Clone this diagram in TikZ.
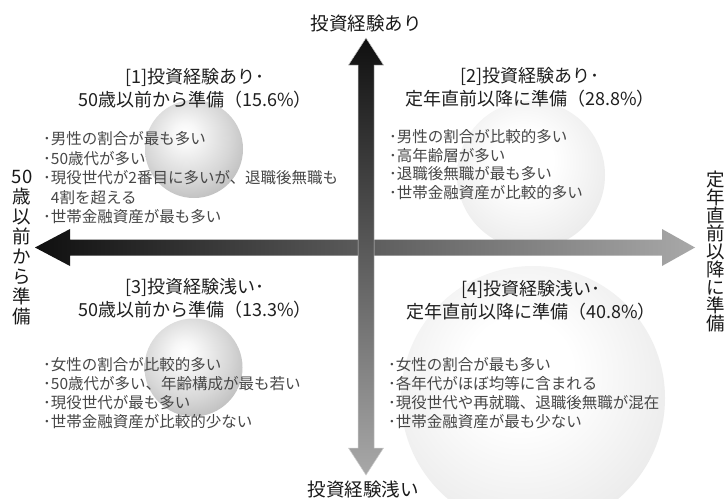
\documentclass[tikz,border=0pt]{standalone}
\usepackage{fontspec}
\setmainfont{Noto Sans CJK JP}
\pgfdeclareradialshading{sphdark}{\pgfpoint{-5bp}{8bp}}{%
  color(0bp)=(white); color(6bp)=(white!97!black); color(22bp)=(black!16);
  color(40bp)=(black!34); color(50bp)=(black!44); color(70bp)=(black!48)}
\pgfdeclareradialshading{sphlight}{\pgfpoint{-3bp}{6bp}}{%
  color(0bp)=(white); color(10bp)=(white); color(30bp)=(black!8);
  color(50bp)=(black!21); color(70bp)=(black!24)}
\begin{document}
\begin{tikzpicture}[x=1pt,y=-1pt,
  ttl/.style={align=center,inner sep=0pt,font=\fontsize{18}{23}\selectfont,text=black!88},
  blt/.style={align=left,inner sep=0pt,anchor=north west,text=black!72},
  axl/.style={inner sep=0pt,align=center,text=black!90},
  sphA/.style={circle,inner sep=0pt,shading=sphdark},
  sphB/.style={circle,inner sep=0pt,shading=sphlight},
]
\useasboundingbox (0,0) rectangle (728,498);
\fill[white] (0,0) rectangle (728,498);

% spheres
\node[sphA,minimum size=98pt] (s1) at (194,149) {};
\node[sphB,minimum size=148pt] (s2) at (531,175) {};
\node[sphA,minimum size=98pt] (s3) at (193.5,367.5) {};
\node[sphB,minimum size=264pt] (s4) at (533,398) {};

% horizontal axis arrow
\shade[left color=black!94,right color=black!34]
  (35,247.5) -- (70,229) -- (70,239.5) -- (662,239.5) -- (662,229) -- (695,247.5)
  -- (662,266) -- (662,255.5) -- (70,255.5) -- (70,266) -- cycle;
% vertical axis arrow
\shade[top color=black!94,bottom color=black!34,draw=white!80!black,line width=0.5pt]
  (366,38) -- (383.5,65) -- (374,65) -- (374,448) -- (383.5,448) -- (366,475)
  -- (348.5,448) -- (358,448) -- (358,65) -- (348.5,65) -- cycle;

% axis labels
\node[axl,font=\fontsize{18.5}{20}\selectfont] (top) at (366,23) {投資経験あり};
\node[axl,font=\fontsize{18.5}{20}\selectfont] (bot) at (363,489) {投資経験浅い};
\node[axl,font=\fontsize{18.5}{20.1}\selectfont] (lft) at (22,247.5)
  {50\\歳\\以\\前\\か\\ら\\準\\備};
\node[axl,font=\fontsize{18.5}{17.9}\selectfont] (rgt) at (716,251.5)
  {定\\年\\直\\前\\以\\降\\に\\準\\備};

% quadrant titles
\node[ttl] (t1) at (195,88.5) {[1]投資経験あり･\\50歳以前から準備（15.6\%）};
\node[ttl] (t2) at (530,87) {[2]投資経験あり･\\定年直前以降に準備（28.8\%）};
\node[ttl] (t3) at (195,298.5) {[3]投資経験浅い･\\50歳以前から準備（13.3\%）};
\node[ttl] (t4) at (531,300.5) {[4]投資経験浅い･\\定年直前以降に準備（40.8\%）};

% bullet lists
\node[blt,font=\fontsize{15.5}{19.5}\selectfont] (b1) at (43,131.2)
  {･男性の割合が最も多い\\･50歳代が多い\\･現役世代が2番目に多いが、退職後無職も\\\phantom{･}4割を超える\\･世帯金融資産が最も多い};
\node[blt,font=\fontsize{15.5}{18.7}\selectfont] (b2) at (389,129.2)
  {･男性の割合が比較的多い\\･高年齢層が多い\\･退職後無職が最も多い\\･世帯金融資産が比較的多い};
\node[blt,font=\fontsize{15.5}{19}\selectfont] (b3) at (43,357.2)
  {･女性の割合が比較的多い\\･50歳代が多い、年齢構成が最も若い\\･現役世代が最も多い\\･世帯金融資産が比較的少ない};
\node[blt,font=\fontsize{15.5}{19}\selectfont] (b4) at (388,357.5)
  {･女性の割合が最も多い\\･各年代がほぼ均等に含まれる\\･現役世代や再就職、退職後無職が混在\\･世帯金融資産が最も少ない};
\end{tikzpicture}
\end{document}
